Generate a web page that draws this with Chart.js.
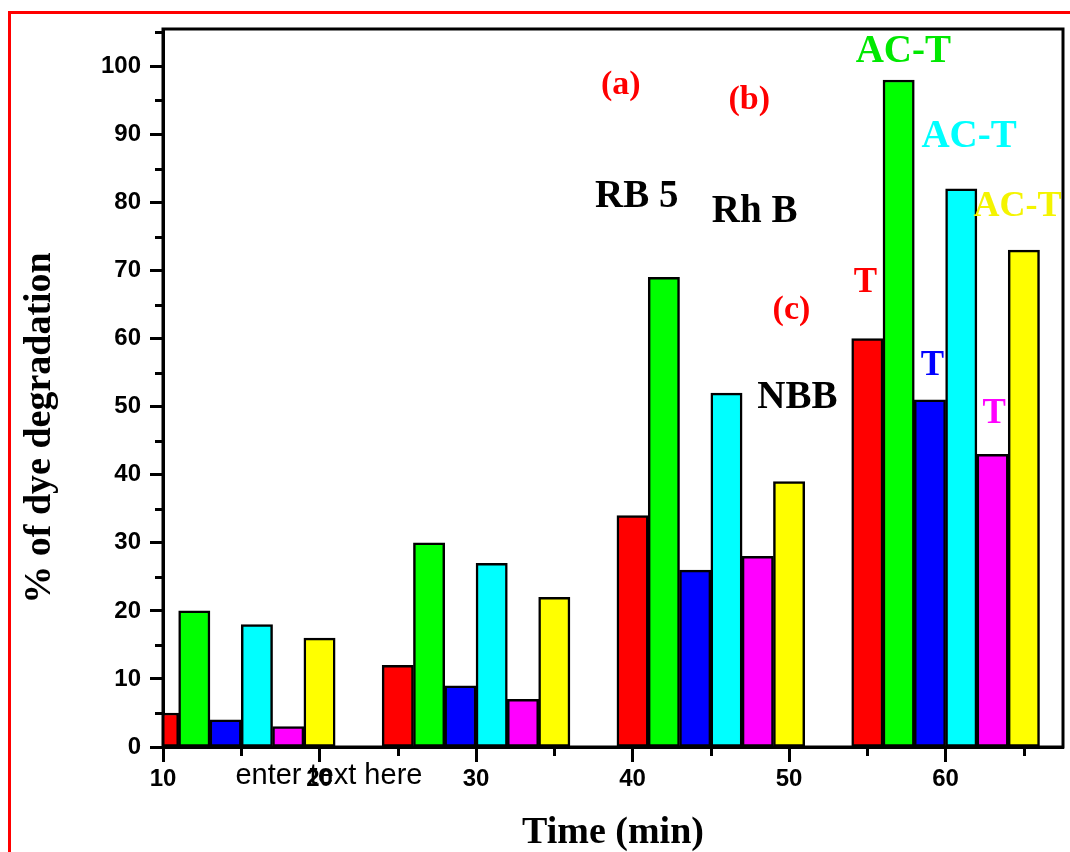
<!DOCTYPE html>
<html>
<head>
<meta charset="utf-8">
<script src="https://cdn.jsdelivr.net/npm/chart.js@4.4.1/dist/chart.umd.min.js"></script>
<style>
html,body{margin:0;padding:0;background:#ffffff;}
#wrap{position:relative;width:1070px;height:852px;overflow:hidden;background:#fff;}
#frame{position:absolute;left:8px;top:11px;width:1100px;height:900px;border-top:3px solid #ff0000;border-left:3px solid #ff0000;}
canvas{position:absolute;left:0;top:0;}
</style>
</head>
<body>
<div id="wrap"><div id="frame"></div><canvas id="c" width="1070" height="852"></canvas></div>
<script>
// ---- data ----
const seriesNames = ['T (RB 5)', 'AC-T (RB 5)', 'T (Rh B)', 'AC-T (Rh B)', 'T (NBB)', 'AC-T (NBB)'];

const timeT_RB5    = [10, 25, 40, 55];
const timeACT_RB5  = [12, 27, 42, 57];
const timeT_RhB    = [14, 29, 44, 59];
const timeACT_RhB  = [16, 31, 46, 61];
const timeT_NBB    = [18, 33, 48, 63];
const timeACT_NBB  = [20, 35, 50, 65];

const degT_RB5     = [5, 12, 34, 60];
const degACT_RB5   = [20, 30, 69, 98];
const degT_RhB     = [4, 9, 26, 51];
const degACT_RhB   = [18, 27, 52, 82];
const degT_NBB     = [3, 7, 28, 43];
const degACT_NBB   = [16, 22, 39, 73];

const xTickLabels = [10, 20, 30, 40, 50, 60];
const yTickLabels = [0, 10, 20, 30, 40, 50, 60, 70, 80, 90, 100];
const xMinorTicks = [15, 25, 35, 45, 55, 65];
const yMinorTicks = [5, 15, 25, 35, 45, 55, 65, 75, 85, 95, 105];

// text notes placed in data units
const noteTexts  = ['(a)', '(b)', '(c)', 'RB 5', 'Rh B', 'NBB', 'AC-T', 'AC-T', 'AC-T', 'T', 'T', 'T'];
const noteTimes  = [39.25, 47.45, 50.15, 40.27, 47.8, 50.53, 57.3, 61.5, 64.6, 54.87, 59.15, 63.1];
const notePcts   = [97.3, 95.1, 64.2, 80.8, 78.6, 51.3, 102.2, 89.7, 79.4, 68.2, 56.0, 48.9];

// ---- styles ----
const colRed = '#ff0000', colGreen = '#00ff00', colBlue = '#0000ff',
      colCyan = '#00ffff', colMagenta = '#ff00ff', colYellow = '#ffff00';
const noteColors = [colRed, colRed, colRed, '#000', '#000', '#000', '#00e800', colCyan, '#f4f400', colRed, colBlue, colMagenta];
const noteSizes  = [34, 34, 34, 39, 39, 39, 39, 39, 36, 35, 35, 35];
const serif = '"Liberation Serif", "Times New Roman", serif';
const sans = '"Liberation Sans", Arial, sans-serif';

function pts(xs, ys) { return xs.map((x, i) => ({x: x, y: ys[i]})); }

const datasets = [
  {label: seriesNames[0], data: pts(timeT_RB5, degT_RB5), backgroundColor: colRed},
  {label: seriesNames[1], data: pts(timeACT_RB5, degACT_RB5), backgroundColor: colGreen},
  {label: seriesNames[2], data: pts(timeT_RhB, degT_RhB), backgroundColor: colBlue},
  {label: seriesNames[3], data: pts(timeACT_RhB, degACT_RhB), backgroundColor: colCyan},
  {label: seriesNames[4], data: pts(timeT_NBB, degT_NBB), backgroundColor: colMagenta},
  {label: seriesNames[5], data: pts(timeACT_NBB, degACT_NBB), backgroundColor: colYellow}
];

const decor = {
  id: 'decor',
  afterDatasetsDraw(chart) {
    const {ctx, chartArea: a, scales: {x, y}} = chart;
    ctx.save();
    // frame
    ctx.strokeStyle = '#000';
    ctx.lineWidth = 3;
    ctx.strokeRect(a.left, a.top, a.right - a.left, a.bottom - a.top);
    // minor ticks
    ctx.beginPath();
    yMinorTicks.forEach(v => { const p = Math.round(y.getPixelForValue(v)) + 0.5; ctx.moveTo(a.left, p); ctx.lineTo(a.left - 8, p); });
    xMinorTicks.forEach(v => { const p = Math.round(x.getPixelForValue(v)) + 0.5; ctx.moveTo(p, a.bottom); ctx.lineTo(p, a.bottom + 9); });
    ctx.stroke();
    // notes
    ctx.textAlign = 'center';
    ctx.textBaseline = 'middle';
    noteTexts.forEach((t, i) => {
      ctx.fillStyle = noteColors[i];
      ctx.font = 'bold ' + noteSizes[i] + 'px ' + serif;
      ctx.fillText(t, x.getPixelForValue(noteTimes[i]), y.getPixelForValue(notePcts[i]));
    });
    // stray text box under the axis
    ctx.fillStyle = '#000';
    ctx.font = '29px ' + sans;
    ctx.fillText('enter text here', x.getPixelForValue(20.6), y.getPixelForValue(-4.3));
    // axis titles
    ctx.font = 'bold 38px ' + serif;
    ctx.fillText('Time (min)', (a.left + a.right) / 2, 833);
    ctx.translate(40, 428);
    ctx.rotate(-Math.PI / 2);
    ctx.fillText('% of dye degradation', 0, 0);
    ctx.restore();
  }
};

const tickFont = {family: sans, size: 24, weight: 'bold'};

new Chart(document.getElementById('c'), {
  type: 'bar',
  data: {datasets: datasets},
  plugins: [decor],
  options: {
    responsive: false,
    animation: false,
    layout: {padding: {left: 0, right: 7, top: 29, bottom: 0}},
    plugins: {legend: {display: false}, tooltip: {enabled: false}, title: {display: false}},
    datasets: {
      bar: {
        grouped: false, barPercentage: 1, categoryPercentage: 1,
        borderWidth: 2.5, borderColor: '#000', borderSkipped: false,
        clip: {left: 0, top: 10, right: 0, bottom: 10}
      }
    },
    scales: {
      x: {
        type: 'linear', min: 10, max: 67.5, offset: false,
        afterFit(s) { s.height = 105; },
        afterBuildTicks(s) { s.ticks = xTickLabels.map(v => ({value: v})); },
        ticks: {stepSize: 10, includeBounds: false, padding: 3, color: '#000', font: tickFont, maxRotation: 0, autoSkip: false},
        grid: {display: true, offset: false, drawOnChartArea: false, tickLength: 15, tickWidth: 3, tickColor: '#000'},
        border: {display: true, width: 3, color: '#000'}
      },
      y: {
        type: 'linear', min: 0, max: 105.5,
        afterFit(s) { s.width = 163; },
        afterBuildTicks(s) { s.ticks = yTickLabels.map(v => ({value: v})); },
        ticks: {stepSize: 10, includeBounds: false, padding: 9, color: '#000', font: tickFont, autoSkip: false},
        grid: {display: true, drawOnChartArea: false, tickLength: 13, tickWidth: 3, tickColor: '#000'},
        border: {display: true, width: 3, color: '#000'}
      }
    }
  }
});
</script>
</body>
</html>
